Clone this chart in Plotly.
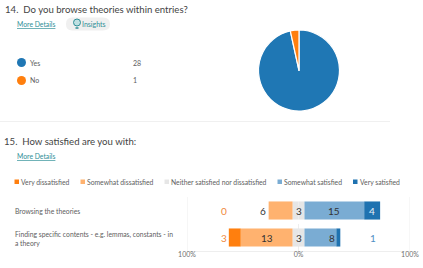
import plotly.graph_objects as go

W, H = 423, 268
pie_labels = ["Yes", "No"]
pie_values = [28, 1]
pie_colors = ["#1f77b4", "#ff7f0e"]

rows = ["Browsing the theories", "Finding specific contents - e.g. lemmas, constants - in<br>a theory"]
rows_key = ["Browsing", "Finding"]
very_dis = [0, 3]
some_dis = [6, 13]
neutral = [3, 3]
some_sat = [15, 8]
very_sat = [4, 1]
scale_names = ["Very dissatisfied", "Somewhat dissatisfied", "Neither satisfied nor dissatisfied", "Somewhat satisfied", "Very satisfied"]
scale_colors = ["#ff7f0e", "#ffb26f", "#e6e6e6", "#7aacd3", "#1f72b0"]
axis_ticks = [-28, 0, 28]
axis_labels = ["100%", "0%", "100%"]

FONT = "Lato"
TEXT = "#606060"
TEAL = "#2f8f97"
px = lambda v: v / W
py = lambda v: 1 - v / H

fig = go.Figure()
fig.add_trace(go.Pie(labels=pie_labels, values=pie_values, sort=False, direction="clockwise", rotation=0,
                     marker=dict(colors=pie_colors, line=dict(color="white", width=1.2)),
                     textinfo="none", hoverinfo="label+value", showlegend=False,
                     domain=dict(x=[px(258.5), px(339.5)], y=[py(111), py(30)])))

def add_bar(vals, color):
    fig.add_trace(go.Bar(y=rows_key, x=vals, orientation="h", marker=dict(color=color, line=dict(color="white", width=0)),
                         showlegend=False, xaxis="x", yaxis="y", hoverinfo="x+y"))

half = [v / 2 for v in neutral]
add_bar([-v for v in half], scale_colors[2])
add_bar(half, scale_colors[2])
add_bar([-v for v in some_dis], scale_colors[1])
add_bar(some_sat, scale_colors[3])
add_bar([-v for v in very_dis], scale_colors[0])
add_bar(very_sat, scale_colors[4])

ann = []
def text(x, y, s, size=8, color=TEXT, anchor="left"):
    ann.append(dict(x=px(x), y=py(y), xref="paper", yref="paper", text=s, showarrow=False, xanchor=anchor, yanchor="middle",
                    font=dict(family=FONT, size=size, color=color), align="left", borderpad=0, borderwidth=0))

text(5, 9, "14.  Do you browse theories within entries?", size=9.6, color="#444444")
text(17, 24, "<u>More Details</u>", size=6.8, color=TEAL)
text(81.5, 24.5, "Insights", size=7, color=TEAL)
text(30, 62.5, pie_labels[0], size=7)
text(30, 80, pie_labels[1], size=7)
text(133, 62.5, str(pie_values[0]), size=7)
text(133, 80, str(pie_values[1]), size=7)

text(4, 141, "15.  How satisfied are you with:", size=9.6, color="#444444")
text(17, 156, "<u>More Details</u>", size=6.8, color=TEAL)
for x, n in zip([21, 87, 171, 284, 360], scale_names):
    text(x, 181.5, n, size=6.8)
text(14.5, 211, rows[0], size=6.8)
text(14.5, 238.5, rows[1], size=6.8)

def dl(x, y, v, color, size=10):
    ann.append(dict(x=x, y=y, xref="x", yref="y", text=str(v), showarrow=False, xanchor="center", yanchor="middle",
                    font=dict(family=FONT, size=size, color=color)))
for row, vd, sd, n, ss, vs in zip(rows_key, very_dis, some_dis, neutral, some_sat, very_sat):
    dl(-18.6, row, vd, "#f0873a")
    left = n / 2 + sd
    dl(-left - 1.4 if sd < 8 else -(n / 2 + sd / 2), row, sd, "#333333")
    dl(0, row, n, "#333333")
    dl(n / 2 + ss / 2 if ss > 10 else n / 2 + ss - 1, row, ss, "#333333")
    right = n / 2 + ss + vs / 2
    if vs > 2:
        dl(right, row, vs, "#e8f0f8")
    else:
        dl(18.7, row, vs, "#4f90c4")

shapes = [
    dict(type="line", xref="paper", yref="paper", x0=0, x1=px(390), y0=py(121.5), y1=py(121.5), line=dict(color="#f0f0f0", width=1)),
    dict(type="path", xref="paper", yref="paper", layer="below", fillcolor="#f0f0f0", line=dict(width=0),
         path=f"M {px(72)} {py(17.5)} L {px(103)} {py(17.5)} Q {px(110)} {py(17.5)} {px(110)} {py(24)} Q {px(110)} {py(30.5)} {px(103)} {py(30.5)} L {px(72)} {py(30.5)} Q {px(66)} {py(30.5)} {px(66)} {py(24)} Q {px(66)} {py(17.5)} {px(72)} {py(17.5)} Z"),
    dict(type="circle", xref="paper", yref="paper", x0=px(73.5), x1=px(80.5), y0=py(26), y1=py(19), fillcolor="#bfe0e2", line=dict(color=TEAL, width=1)),
    dict(type="line", xref="paper", yref="paper", x0=px(75.5), x1=px(78.5), y0=py(28), y1=py(28), line=dict(color=TEAL, width=1.5)),
    dict(type="circle", xref="paper", yref="paper", x0=px(17), x1=px(26), y0=py(67), y1=py(58), fillcolor=pie_colors[0], line=dict(width=0)),
    dict(type="circle", xref="paper", yref="paper", x0=px(17), x1=px(26), y0=py(85), y1=py(76), fillcolor=pie_colors[1], line=dict(width=0)),
]
for x, c in zip([14.5, 80.5, 164.5, 277.5, 353], scale_colors):
    shapes.append(dict(type="rect", xref="paper", yref="paper", x0=px(x), x1=px(x + 4.5), y0=py(184), y1=py(179.5), fillcolor=c, line=dict(width=0)))
for t in axis_ticks:
    shapes.append(dict(type="line", xref="x", yref="y domain", x0=t, x1=t, y0=0, y1=1, layer="below",
                       line=dict(color="#eeeeee", width=1, dash="dash" if t == 0 else "solid")))

fig.update_layout(
    width=W, height=H, autosize=False, margin=dict(l=0, r=0, t=0, b=0, pad=0, autoexpand=False), paper_bgcolor="white", plot_bgcolor="white",
    barmode="relative", bargap=0.33, annotations=ann, shapes=shapes, showlegend=False,
    xaxis=dict(domain=[px(187), px(410)], range=[-28, 28], tickvals=axis_ticks, ticktext=axis_labels, showgrid=False,
               zeroline=False, showline=True, linecolor="#eeeeee", ticks="", anchor="y", ticklabelstandoff=-3,
               tickfont=dict(family=FONT, size=7, color="#707070"), fixedrange=True),
    yaxis=dict(domain=[py(251), py(197)], categoryorder="array", categoryarray=rows_key[::-1], showticklabels=False,
               showgrid=False, zeroline=False, fixedrange=True),
)
fig.write_html("out.html", config=dict(displayModeBar=False), post_script="document.body.style.margin='0';")
